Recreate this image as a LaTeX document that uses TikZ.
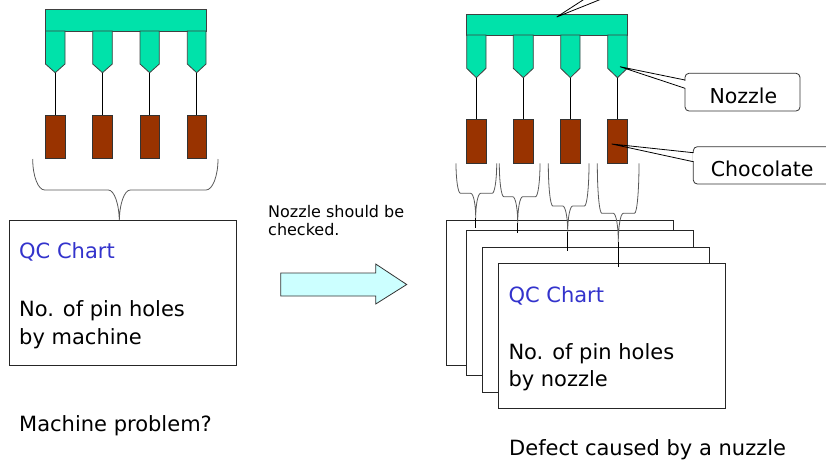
\documentclass[tikz,border=0pt]{standalone}
\usepackage{fontspec}
\setmainfont{DejaVu Sans}
\definecolor{nozzlecol}{RGB}{0,226,170}
\definecolor{chocol}{RGB}{153,51,0}
\definecolor{qcblue}{RGB}{51,51,204}
\definecolor{arrowfill}{RGB}{204,255,255}
\newcommand\mybrace[8]{% x1 x2 xc yt ym ytip rx r2
 \draw[bracestyle] (#1,#4) .. controls (#1,{#4+0.55*(#5-#4)}) and ({#1+0.45*#7},#5) .. ({#1+#7},#5)
   -- ({#3-#8},#5) .. controls ({#3-0.45*#8},#5) and (#3,{#6-0.55*(#6-#5)}) .. (#3,#6)
   .. controls (#3,{#6-0.55*(#6-#5)}) and ({#3+0.45*#8},#5) .. ({#3+#8},#5)
   -- ({#2-#7},#5) .. controls ({#2-0.45*#7},#5) and (#2,{#4+0.55*(#5-#4)}) .. (#2,#4);}
\begin{document}
\begin{tikzpicture}[x=1pt,y=-1pt,
  barstyle/.style={draw=black!75, fill=nozzlecol, line width=0.8pt},
  chocbox/.style={draw=black!80, fill=chocol, minimum width=19.5pt, minimum height=43.5pt, inner sep=0pt, outer sep=0pt, line width=0.8pt},
  sheet/.style={draw=black!85, fill=white, minimum width=227pt, minimum height=145pt, anchor=north west, inner sep=0pt, outer sep=0pt, line width=0.9pt},
  bigtxt/.style={font=\fontsize{21}{25}\selectfont, anchor=base west, inner sep=0pt},
  calltxt/.style={font=\fontsize{20.5}{25}\selectfont, anchor=base west, inner sep=0pt},
  smalltxt/.style={font=\fontsize{16}{19}\selectfont, anchor=base west, inner sep=0pt},
  qctxt/.style={bigtxt, text=qcblue},
  bracestyle/.style={draw=black!65, line width=0.8pt},
  callout/.style={draw=black!80, fill=white, rounded corners=4pt, inner sep=0pt, outer sep=0pt, anchor=north west, line width=0.8pt},
  link/.style={draw=black, line width=0.8pt}
]
\useasboundingbox (0,0) rectangle (826,464);

% ---------- left machine ----------
\draw[barstyle] (45.5,9) rectangle (206,31);
\foreach \a/\b/\n in {45.5/65/1, 92.7/112.3/2, 140/159.3/3, 187.3/206/4} {
  \draw[barstyle] (\a,31) -- (\a,64) -- ({(\a+\b)/2},72.7) -- (\b,64) -- (\b,31) -- cycle;
  \coordinate (lt\n) at ({(\a+\b)/2},72.7);
  \node[chocbox] (lc\n) at ({(\a+\b)/2},136.7) {};
}
\draw[link] (lt1) -- (lc1.north);
\draw[link] (lt2) -- (lc2.north);
\draw[link] (lt3) -- (lc3.north);
\draw[link, line width=1.6pt] (lt4) -- (lc4.north);

\mybrace{32.7}{218}{119.3}{159}{190}{222}{12}{11}

\node[sheet] (lbox) at (9,220) {};
\node[qctxt] (lqc) at ([xshift=10pt,yshift=-38.7pt]lbox.north west) {QC Chart};
\node[bigtxt] (ll1) at ([xshift=10pt,yshift=-96.7pt]lbox.north west) {No. of pin holes};
\node[bigtxt] (ll2) at ([xshift=10pt,yshift=-124.5pt]lbox.north west) {by machine};
\node[bigtxt] (lq) at (19,431.7) {Machine problem?};

% ---------- arrow ----------
\node[smalltxt] (ns1) at (268,217) {Nozzle should be};
\node[smalltxt] (ns2) at (268,235) {checked.};
\draw[draw=black!80, fill=arrowfill, line width=0.8pt] (280.7,273) -- (375.7,273) -- (375.7,264) -- (406.7,284.5)
   -- (375.7,304) -- (375.7,296) -- (280.7,296) -- cycle;

% ---------- right machine ----------
\draw[barstyle] (466.7,14) rectangle (627.3,35);
\foreach \a/\b/\n in {466.7/486/1, 513.3/533.3/2, 560.7/580/3, 607.7/627.3/4} {
  \draw[barstyle] (\a,35) -- (\a,68.3) -- ({(\a+\b)/2},77.7) -- (\b,68.3) -- (\b,35) -- cycle;
  \coordinate (rt\n) at ({(\a+\b)/2},77.7);
  \node[chocbox] (rc\n) at ({(\a+\b)/2},141.2) {};
  \draw[link] (rt\n) -- (rc\n.north);
}

% sheets
\node[sheet] (s1) at (446,220) {};
\node[sheet] (s2) at (466,230) {};
\node[sheet] (s3) at (482.3,247.7) {};
\node[sheet] (s4) at (498.3,263.3) {};
\node[qctxt] (rqc) at ([xshift=10pt,yshift=-39.4pt]s4.north west) {QC Chart};
\node[bigtxt] (rl1) at ([xshift=10pt,yshift=-96.3pt]s4.north west) {No. of pin holes};
\node[bigtxt] (rl2) at ([xshift=10pt,yshift=-123.6pt]s4.north west) {by nozzle};
\node[bigtxt] (rq) at (509,455) {Defect caused by a nuzzle};

% small braces
\mybrace{456}{496.7}{475.7}{163.3}{193.3}{218}{4.5}{5}
\mybrace{499.3}{540}{517.7}{163.3}{196.7}{223}{4.5}{5}
\mybrace{548.3}{589}{567.7}{163.3}{206}{232}{4.5}{5}
\mybrace{597.3}{639}{618.3}{163.3}{213.3}{242}{4.5}{5}
\coordinate (bt1) at (475.7,218);  \coordinate (be1) at (475.7,228);
\coordinate (bt2) at (517.7,223);  \coordinate (be2) at (517.7,233.3);
\coordinate (bt3) at (567.7,232);  \coordinate (be3) at (567.7,250.7);
\coordinate (bt4) at (618.3,242);  \coordinate (be4) at (618.3,267.3);
\draw[link] (bt1) -- (be1);
\draw[link, line width=1.4pt] (bt2) -- (be2);
\draw[link] (bt3) -- (be3);
\draw[link] (bt4) -- (be4);

% callouts
\coordinate (bartip) at (556.7,17);
\coordinate (barc1) at (584.5,-1);
\coordinate (barc2) at (601.5,-1);
\draw[link] (barc1) -- (bartip) -- (barc2);

\node[callout, minimum width=115pt, minimum height=37.7pt] (nzbox) at (685,73.3) {};
\coordinate (nztip) at (620,66.7);
\coordinate (nzw1) at (685,80);
\coordinate (nzw2) at (685,88.3);
\draw[white, line width=1.4pt] ([yshift=-0.6pt]nzw1) -- ([yshift=0.6pt]nzw2);
\draw[link] (nzw1) -- (nztip) -- (nzw2);
\node[calltxt] (nztxt) at (709.3,103.3) {Nozzle};

\node[callout, minimum width=160pt, minimum height=37.3pt] (chbox) at (693.3,146.7) {};
\coordinate (chtip) at (611.7,144);
\coordinate (chw1) at (693.3,152.7);
\coordinate (chw2) at (693.3,161.7);
\draw[white, line width=1.4pt] ([yshift=-0.6pt]chw1) -- ([yshift=0.6pt]chw2);
\draw[link] (chw1) -- (chtip) -- (chw2);
\node[calltxt] (chtxt) at (710.7,176) {Chocolate};
\end{tikzpicture}
\end{document}
